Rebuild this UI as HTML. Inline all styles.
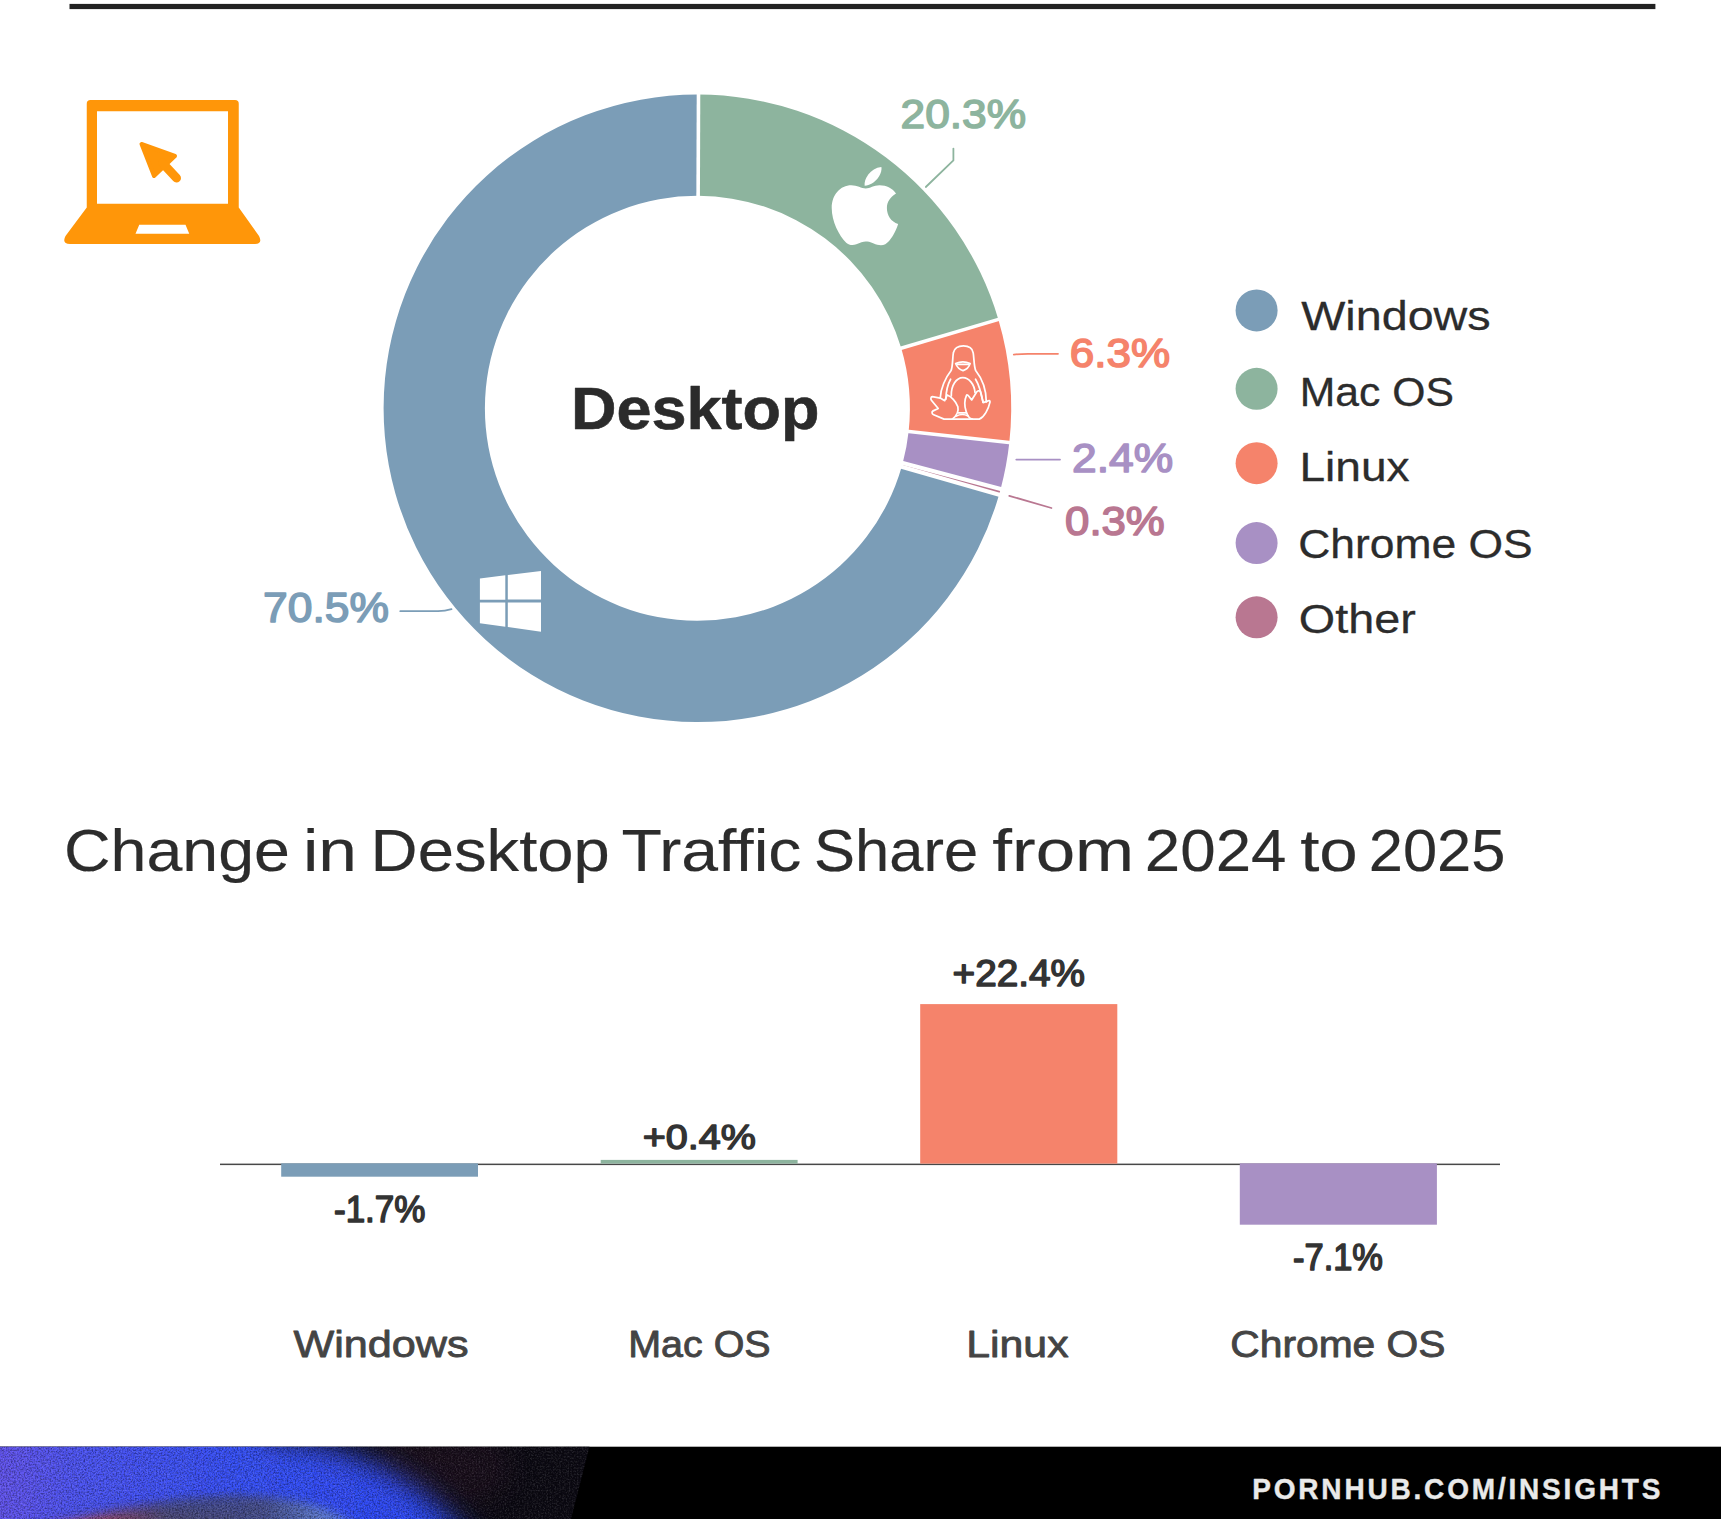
<!DOCTYPE html>
<html lang="en"><head><meta charset="utf-8"><title>Desktop OS Traffic Share</title>
<style>
html,body{margin:0;padding:0;background:#fff;width:1721px;height:1519px;overflow:hidden}
svg{display:block;font-family:"Liberation Sans", sans-serif}
</style></head><body>
<svg width="1721" height="1519" viewBox="0 0 1721 1519">
<rect width="1721" height="1519" fill="#fff"/>
<!-- top rule -->
<rect x="69.5" y="3.9" width="1585.9" height="5.2" fill="#222"/>
<!-- donut -->
<path d="M698.50 94.50A313.8 313.8 0 0 1 998.36 319.44L901.20 348.12A212.5 212.5 0 0 0 698.14 195.80Z" fill="#8db49e"/>
<path d="M998.36 319.44A313.8 313.8 0 0 1 1009.32 442.57L908.63 431.51A212.5 212.5 0 0 0 901.20 348.12Z" fill="#f5836b"/>
<path d="M1009.32 442.57A313.8 313.8 0 0 1 1000.72 488.72L902.80 462.76A212.5 212.5 0 0 0 908.63 431.51Z" fill="#a890c4"/>
<path d="M1000.72 488.72A313.8 313.8 0 0 1 998.97 495.06L901.62 467.05A212.5 212.5 0 0 0 902.80 462.76Z" fill="#b97791"/>
<path d="M998.97 495.06A313.8 313.8 0 1 1 698.50 94.50L698.14 195.80A212.5 212.5 0 1 0 901.62 467.05Z" fill="#7b9db7"/>
<line x1="698.13" y1="197.80" x2="698.50" y2="92.50" stroke="#fff" stroke-width="3.6"/>
<line x1="899.28" y1="348.69" x2="1000.27" y2="318.87" stroke="#fff" stroke-width="3.6"/>
<line x1="906.64" y1="431.29" x2="1011.31" y2="442.79" stroke="#fff" stroke-width="3.6"/>
<line x1="900.82" y1="462.43" x2="1002.58" y2="489.50" stroke="#fff" stroke-width="4.15"/>
<line x1="899.75" y1="466.32" x2="1000.97" y2="495.35" stroke="#fff" stroke-width="4.15"/>
<!-- leaders -->
<g fill="none" stroke-width="1.8" stroke-linecap="round" stroke-linejoin="round">
<path d="M953.4 148.6 V160.4 L925.8 187" stroke="#8db49e"/>
<path d="M1013.8 354.6 Q1020 353.8 1028 353.8 H1058" stroke="#f5836b"/>
<path d="M1016.3 459.6 H1060" stroke="#a890c4"/>
<path d="M1009.3 495.8 L1051.4 508" stroke="#b97791"/>
<path d="M400.3 611.2 H438 Q445 611 451.5 609.2" stroke="#7b9db7"/>
</g>

<!-- icons -->
<!-- laptop (coords at 4x, scaled down) -->
<g transform="scale(0.25)" fill="#ff9609">
<path fill-rule="evenodd" d="M362 400 H940 Q955 400 955 415 V830 L1036 944 Q1052 975 1020 976 H280 Q246 975 262 944 L347 830 V415 Q347 400 362 400 Z M388 445 V815 H912 V445 Z M557 899 L542 935 H757 L742 899 Z"/>
<path d="M566 576 L700 624 L616 704 Z" stroke="#ff9609" stroke-width="16" stroke-linejoin="round"/>
<path d="M650 652 L706 712" stroke="#ff9609" stroke-width="36" stroke-linecap="round" fill="none"/>
</g>
<!-- windows logo -->
<g fill="#fff">
<path d="M479.9 578.5 L505.3 575.3 V599.7 H479.9 Z"/>
<path d="M507.8 575 L541 570.9 V599.6 H507.8 Z"/>
<path d="M479.9 602.4 H505.3 V626.7 L479.9 623.2 Z"/>
<path d="M507.8 602.4 H541 V631.7 L507.8 627 Z"/>
</g>
<!-- apple logo (coords at 13.81x of region origin 810,150) -->
<g transform="translate(810 150) scale(0.07241)" fill="#fff">
<path d="M770 532 C830 532 880 488 960 488 C1060 488 1140 535 1188 600 C1105 650 1062 720 1062 800 C1062 900 1120 990 1217 1022 C1185 1130 1110 1262 1040 1300 C990 1326 930 1312 880 1290 C830 1270 795 1265 770 1265 C735 1265 690 1282 640 1302 C590 1320 540 1315 500 1280 C400 1180 300 985 300 800 C300 620 420 488 570 488 C650 488 710 532 770 532 Z"/>
<path d="M755 492 C742 400 830 250 986 234 C1002 330 900 482 755 492 Z"/>
</g>
<!-- tux (coords at 14.47x of region origin 915,330) -->
<g transform="translate(915 330) scale(0.06912)" fill="none" stroke="#fff" stroke-width="25" stroke-linecap="round" stroke-linejoin="round">
<path d="M365 985 C370 850 440 690 520 590 C548 540 542 400 555 330 C570 262 630 230 700 230 C770 230 830 262 842 330 C855 400 852 540 880 590 C960 690 1030 850 1032 1040"/>
<path d="M588 484 Q692 438 798 484 Q772 562 695 588 Q618 562 588 484 Z"/>
<path d="M612 496 H776"/>
<path d="M525 955 C520 800 600 690 692 690 C782 690 862 790 868 905"/>
<path d="M515 712 C468 795 450 870 446 1000"/>
<path d="M876 712 C925 790 948 860 985 1045"/>
<path d="M365 985 L252 964 C226 964 224 1000 240 1020 L336 1135 L262 1170 C236 1184 244 1214 270 1225 L420 1290 H540 C590 1250 640 1200 620 1110 C592 1030 522 962 466 940 L430 1022 Z"/>
<path d="M745 945 C720 1000 714 1100 740 1180 C760 1240 800 1290 832 1290 H930 C1000 1260 1062 1150 1086 1040 C1086 1020 1070 1014 1050 1030 L986 1050 L946 890 C930 870 900 880 890 900 L820 1012 L776 956 C766 940 750 934 745 945 Z"/>
<path d="M540 1290 H832"/>
<path d="M598 1245 Q685 1200 768 1245"/>
<path d="M632 1200 H742"/>
</g>

<!-- legend -->
<circle cx="1256.6" cy="310.4" r="21" fill="#7b9db7"/>
<circle cx="1256.6" cy="388.8" r="21" fill="#8db49e"/>
<circle cx="1256.6" cy="463.2" r="21" fill="#f5836b"/>
<circle cx="1256.6" cy="543.1" r="21" fill="#a890c4"/>
<circle cx="1256.6" cy="617.3" r="21" fill="#b97791"/>
<!-- bars -->
<rect x="220" y="1163.6" width="1280" height="1.5" fill="#484848"/>
<rect x="281.2" y="1163.3" width="196.8" height="13.4" fill="#7b9db7"/>
<rect x="600.7" y="1159.9" width="196.9" height="3.7" fill="#8db49e"/>
<rect x="920.2" y="1004.1" width="197.1" height="159.5" fill="#f5836b"/>
<rect x="1239.8" y="1163.3" width="197.1" height="61.4" fill="#a890c4"/>
<!-- footer -->
<defs>
<clipPath id="fclip"><path d="M0 1446.7 H589.5 L571 1519 H0 Z"/></clipPath>
<linearGradient id="fblue" x1="0" y1="0" x2="420" y2="0" gradientUnits="userSpaceOnUse">
<stop offset="0" stop-color="#6252ee"/><stop offset="0.2" stop-color="#4a52f4"/><stop offset="0.55" stop-color="#3650f8"/><stop offset="1" stop-color="#2c48f6"/>
</linearGradient>
<linearGradient id="farch" x1="40" y1="0" x2="360" y2="0" gradientUnits="userSpaceOnUse">
<stop offset="0" stop-color="#b8484e"/><stop offset="0.2" stop-color="#96445a"/><stop offset="0.4" stop-color="#4c466c"/><stop offset="0.7" stop-color="#464e88"/><stop offset="0.88" stop-color="#5f7ccc"/><stop offset="1" stop-color="#5a78e0"/>
</linearGradient>
<linearGradient id="fred" x1="0" y1="1500" x2="0" y2="1519" gradientUnits="userSpaceOnUse">
<stop offset="0" stop-color="#3c4aa0" stop-opacity="0.9"/><stop offset="1" stop-color="#3c4aa0" stop-opacity="0"/>
</linearGradient>
<filter id="fb1" x="-30%" y="-30%" width="160%" height="160%"><feGaussianBlur stdDeviation="14"/></filter>
<filter id="fb2" x="-20%" y="-20%" width="140%" height="140%"><feGaussianBlur stdDeviation="5"/></filter>
<filter id="fnoiseD" x="0" y="0" width="100%" height="100%">
<feTurbulence type="fractalNoise" baseFrequency="0.62" numOctaves="3" seed="7"/>
<feColorMatrix type="matrix" values="0 0 0 0 0  0 0 0 0 0  0 0 0 0 0  0 0 0 -2.4 1.45"/>
</filter>
<filter id="fnoiseL" x="0" y="0" width="100%" height="100%">
<feTurbulence type="fractalNoise" baseFrequency="0.62" numOctaves="3" seed="23"/>
<feColorMatrix type="matrix" values="0 0 0 0 1  0 0 0 0 1  0 0 0 0 1  0 0 0 2.4 -1.0"/>
</filter>
</defs>
<rect x="0" y="1446.7" width="1721" height="73" fill="#000"/>
<g clip-path="url(#fclip)">
<rect x="-10" y="1440" width="620" height="90" fill="#0b0912"/>
<ellipse cx="440" cy="1468" rx="70" ry="40" fill="#4a1c3a" opacity="0.22" filter="url(#fb1)"/>
<path d="M-80 1360 H263.5 V1439.1 A260.1 260.1 0 0 1 523.6 1699.2 H-80 Z" fill="url(#fblue)" filter="url(#fb1)"/>
<path d="M10 1536 C90 1514 170 1498 244 1496 C300 1497 335 1508 362 1530 Z" fill="url(#farch)" filter="url(#fb2)" opacity="0.95"/>
<path d="M20 1519 C90 1508 170 1499 244 1497 V1519 Z" fill="url(#fred)" filter="url(#fb2)" opacity="0.7"/>
<rect x="0" y="1446.7" width="600" height="73" fill="#fff" filter="url(#fnoiseL)" opacity="0.13"/>
<rect x="0" y="1446.7" width="600" height="73" fill="#00002a" filter="url(#fnoiseD)" opacity="0.38"/>
</g>

<!-- text -->
<text transform="matrix(0.6301 0 0 0.5931 570.95 428.50)" font-size="100" font-weight="bold" letter-spacing="0" fill="#2b2b2b" stroke="#2b2b2b" stroke-width="0.60" stroke-linejoin="round" vector-effect="non-scaling-stroke">Desktop</text>
<text transform="matrix(0.4425 0 0 0.4129 900.59 127.90)" font-size="100" font-weight="normal" letter-spacing="0" fill="#8db49e" stroke="#8db49e" stroke-width="1.60" stroke-linejoin="round" vector-effect="non-scaling-stroke">20.3%</text>
<text transform="matrix(0.4406 0 0 0.4158 1069.80 367.00)" font-size="100" font-weight="normal" letter-spacing="0" fill="#f5836b" stroke="#f5836b" stroke-width="1.60" stroke-linejoin="round" vector-effect="non-scaling-stroke">6.3%</text>
<text transform="matrix(0.4433 0 0 0.4129 1072.08 472.40)" font-size="100" font-weight="normal" letter-spacing="0" fill="#a890c4" stroke="#a890c4" stroke-width="1.60" stroke-linejoin="round" vector-effect="non-scaling-stroke">2.4%</text>
<text transform="matrix(0.4377 0 0 0.4129 1065.05 534.80)" font-size="100" font-weight="normal" letter-spacing="0" fill="#b97791" stroke="#b97791" stroke-width="1.60" stroke-linejoin="round" vector-effect="non-scaling-stroke">0.3%</text>
<text transform="matrix(0.4440 0 0 0.4258 263.07 622.20)" font-size="100" font-weight="normal" letter-spacing="0" fill="#7b9db7" stroke="#7b9db7" stroke-width="1.60" stroke-linejoin="round" vector-effect="non-scaling-stroke">70.5%</text>
<text transform="matrix(0.4672 0 0 0.4130 1301.22 329.65)" font-size="100" font-weight="normal" letter-spacing="0" fill="#2c2c2c" stroke="#2c2c2c" stroke-width="0.30" stroke-linejoin="round" vector-effect="non-scaling-stroke">Windows</text>
<text transform="matrix(0.4270 0 0 0.4130 1299.73 405.75)" font-size="100" font-weight="normal" letter-spacing="0" fill="#2c2c2c" stroke="#2c2c2c" stroke-width="0.30" stroke-linejoin="round" vector-effect="non-scaling-stroke">Mac OS</text>
<text transform="matrix(0.4609 0 0 0.4130 1299.45 481.35)" font-size="100" font-weight="normal" letter-spacing="0" fill="#2c2c2c" stroke="#2c2c2c" stroke-width="0.30" stroke-linejoin="round" vector-effect="non-scaling-stroke">Linux</text>
<text transform="matrix(0.4444 0 0 0.4130 1298.23 557.55)" font-size="100" font-weight="normal" letter-spacing="0" fill="#2c2c2c" stroke="#2c2c2c" stroke-width="0.30" stroke-linejoin="round" vector-effect="non-scaling-stroke">Chrome OS</text>
<text transform="matrix(0.4677 0 0 0.4130 1298.83 632.85)" font-size="100" font-weight="normal" letter-spacing="0" fill="#2c2c2c" stroke="#2c2c2c" stroke-width="0.30" stroke-linejoin="round" vector-effect="non-scaling-stroke">Other</text>
<text transform="matrix(0.6450 0 0 0.5957 63.97 870.90)" font-size="100" font-weight="normal" letter-spacing="0" fill="#2c2c2c" stroke="#2c2c2c" stroke-width="0.20" stroke-linejoin="round" vector-effect="non-scaling-stroke">Change</text>
<text transform="matrix(0.6946 0 0 0.5957 302.91 870.90)" font-size="100" font-weight="normal" letter-spacing="0" fill="#2c2c2c" stroke="#2c2c2c" stroke-width="0.20" stroke-linejoin="round" vector-effect="non-scaling-stroke">in</text>
<text transform="matrix(0.6522 0 0 0.5957 370.62 870.90)" font-size="100" font-weight="normal" letter-spacing="0" fill="#2c2c2c" stroke="#2c2c2c" stroke-width="0.20" stroke-linejoin="round" vector-effect="non-scaling-stroke">Desktop</text>
<text transform="matrix(0.6612 0 0 0.5957 621.41 870.90)" font-size="100" font-weight="normal" letter-spacing="0" fill="#2c2c2c" stroke="#2c2c2c" stroke-width="0.20" stroke-linejoin="round" vector-effect="non-scaling-stroke">Traffic</text>
<text transform="matrix(0.6151 0 0 0.5957 814.03 870.90)" font-size="100" font-weight="normal" letter-spacing="0" fill="#2c2c2c" stroke="#2c2c2c" stroke-width="0.20" stroke-linejoin="round" vector-effect="non-scaling-stroke">Share</text>
<text transform="matrix(0.7094 0 0 0.5957 992.34 870.90)" font-size="100" font-weight="normal" letter-spacing="0" fill="#2c2c2c" stroke="#2c2c2c" stroke-width="0.20" stroke-linejoin="round" vector-effect="non-scaling-stroke">from</text>
<text transform="matrix(0.6368 0 0 0.5957 1144.82 870.90)" font-size="100" font-weight="normal" letter-spacing="0" fill="#2c2c2c" stroke="#2c2c2c" stroke-width="0.20" stroke-linejoin="round" vector-effect="non-scaling-stroke">2024</text>
<text transform="matrix(0.6907 0 0 0.5957 1300.16 870.90)" font-size="100" font-weight="normal" letter-spacing="0" fill="#2c2c2c" stroke="#2c2c2c" stroke-width="0.20" stroke-linejoin="round" vector-effect="non-scaling-stroke">to</text>
<text transform="matrix(0.6143 0 0 0.5957 1368.73 870.90)" font-size="100" font-weight="normal" letter-spacing="0" fill="#2c2c2c" stroke="#2c2c2c" stroke-width="0.20" stroke-linejoin="round" vector-effect="non-scaling-stroke">2025</text>
<text transform="matrix(0.3502 0 0 0.3639 333.97 1221.95)" font-size="100" font-weight="normal" letter-spacing="0" fill="#333" stroke="#333" stroke-width="1.50" stroke-linejoin="round" vector-effect="non-scaling-stroke">-1.7%</text>
<text transform="matrix(0.3953 0 0 0.3570 642.77 1149.05)" font-size="100" font-weight="normal" letter-spacing="0" fill="#333" stroke="#333" stroke-width="1.50" stroke-linejoin="round" vector-effect="non-scaling-stroke">+0.4%</text>
<text transform="matrix(0.3877 0 0 0.3656 952.51 985.75)" font-size="100" font-weight="normal" letter-spacing="0" fill="#333" stroke="#333" stroke-width="1.50" stroke-linejoin="round" vector-effect="non-scaling-stroke">+22.4%</text>
<text transform="matrix(0.3447 0 0 0.3783 1293.00 1269.55)" font-size="100" font-weight="normal" letter-spacing="0" fill="#333" stroke="#333" stroke-width="1.50" stroke-linejoin="round" vector-effect="non-scaling-stroke">-7.1%</text>
<text transform="matrix(0.4321 0 0 0.3783 293.43 1357.15)" font-size="100" font-weight="normal" letter-spacing="0" fill="#444" stroke="#444" stroke-width="0.90" stroke-linejoin="round" vector-effect="non-scaling-stroke">Windows</text>
<text transform="matrix(0.3945 0 0 0.3783 628.20 1357.15)" font-size="100" font-weight="normal" letter-spacing="0" fill="#444" stroke="#444" stroke-width="0.90" stroke-linejoin="round" vector-effect="non-scaling-stroke">Mac OS</text>
<text transform="matrix(0.4283 0 0 0.3783 966.22 1357.15)" font-size="100" font-weight="normal" letter-spacing="0" fill="#444" stroke="#444" stroke-width="0.90" stroke-linejoin="round" vector-effect="non-scaling-stroke">Linux</text>
<text transform="matrix(0.4077 0 0 0.3783 1230.31 1357.15)" font-size="100" font-weight="normal" letter-spacing="0" fill="#444" stroke="#444" stroke-width="0.90" stroke-linejoin="round" vector-effect="non-scaling-stroke">Chrome OS</text>
<text transform="matrix(0.2803 0 0 0.2928 1252.21 1498.80)" font-size="100" font-weight="bold" letter-spacing="10" fill="#e9e9e9" stroke="#e9e9e9" stroke-width="0.40" stroke-linejoin="round" vector-effect="non-scaling-stroke">PORNHUB.COM/INSIGHTS</text>
</svg>
</body></html>
